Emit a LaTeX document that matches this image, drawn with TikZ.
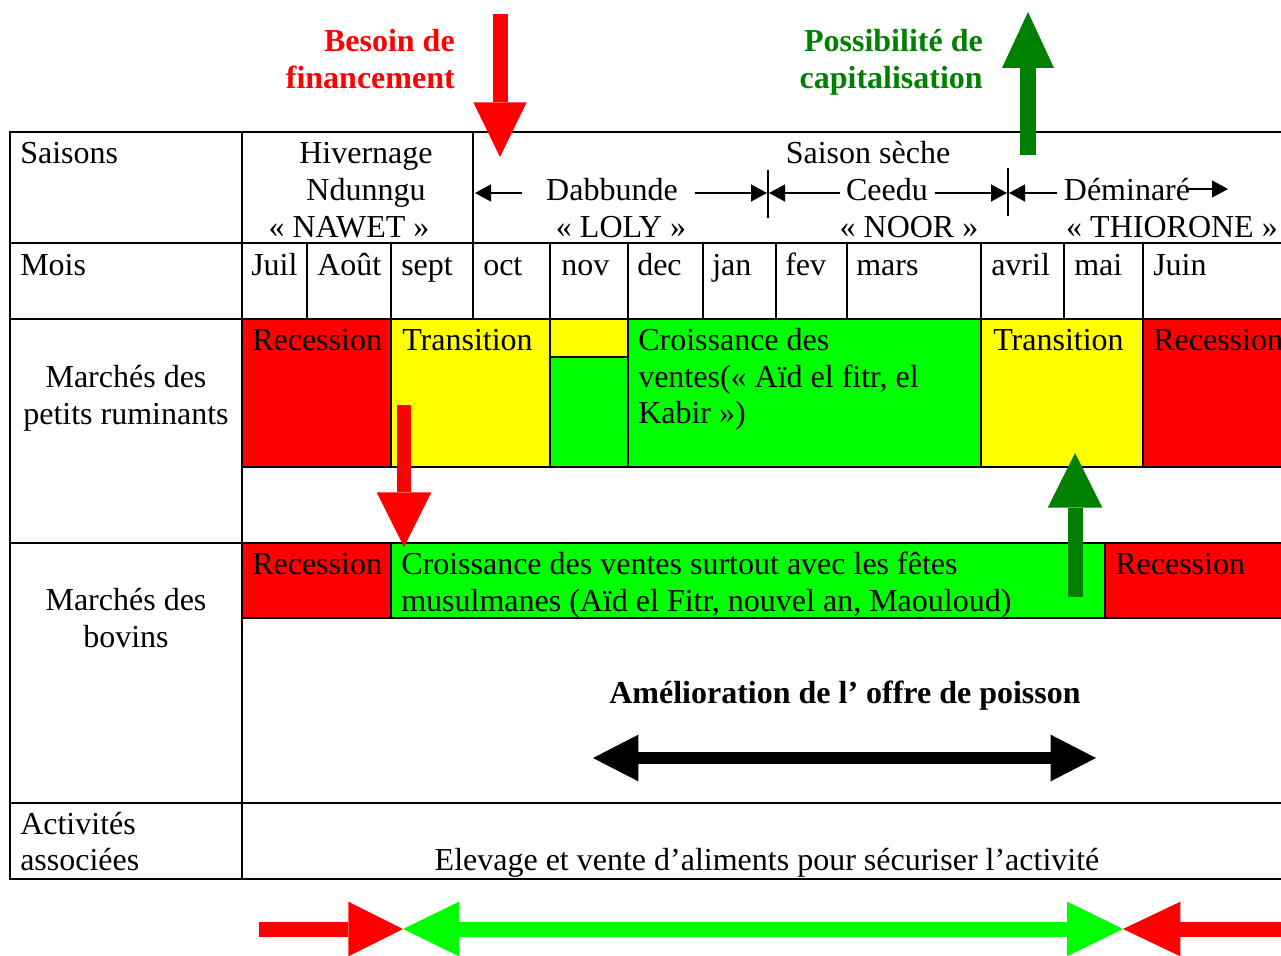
\documentclass[tikz,border=0pt]{standalone}
\usepackage{fontspec}
\setmainfont{Liberation Serif}
\usetikzlibrary{arrows.meta}
\definecolor{rouge}{RGB}{255,0,0}
\definecolor{jaune}{RGB}{255,255,0}
\definecolor{vert}{RGB}{0,255,0}
\definecolor{vertfonce}{RGB}{0,128,0}

\begin{document}
\begin{tikzpicture}[x=0.75pt,y=-0.75pt,
  txt/.style={inner sep=0pt, font=\fontsize{24}{28}\selectfont},
  txtb/.style={inner sep=0pt, font=\fontsize{24}{28}\selectfont\bfseries},
  gridline/.style={line width=1.5pt, line cap=rect},
  sepline/.style={line width=1.1pt},
  sarrow/.style={line width=1.1pt, -{Triangle[length=12pt,width=13pt,line width=0pt]}},
  bigarrow/.style={line width=#1, line cap=butt},
]
\useasboundingbox (0,0) rectangle (1281,956);

% ---------- coloured bars: small ruminants ----------
\fill[rouge] (242,319) rectangle (391,467);
\fill[jaune] (391,319) rectangle (550,467);
\fill[jaune] (550,319) rectangle (628,357);
\fill[vert]  (550,357) rectangle (628,467);
\fill[vert]  (628,319) rectangle (981,467);
\fill[jaune] (981,319) rectangle (1143,467);
\fill[rouge] (1143,319) rectangle (1281,467);

% ---------- coloured bars: cattle ----------
\fill[rouge] (242,543) rectangle (391,618);
\fill[vert]  (391,543) rectangle (1105,618);
\fill[rouge] (1105,543) rectangle (1281,618);

% ---------- table grid ----------
\foreach \y in {132,243,319,543,803,879}
  \draw[gridline] (10,\y) -- (1281,\y);
\draw[gridline] (10,132) -- (10,879);
\draw[gridline] (242,132) -- (242,879);
\draw[gridline] (473,132) -- (473,243);
\foreach \x in {307,391,473,550,628,703,776,847,981,1064,1143}
  \draw[sepline] (\x,243) -- (\x,319);
\draw[gridline] (242,467) -- (1281,467);
\draw[gridline] (242,618) -- (1281,618);
\foreach \x in {391,550,628,981,1143}
  \draw[sepline] (\x,319) -- (\x,467);
\draw[sepline] (550,357) -- (628,357);
\foreach \x in {391,1105}
  \draw[sepline] (\x,543) -- (\x,618);

% ---------- left column ----------
\node[txt, anchor=base west] (saisons) at (20,163) {Saisons};
\node[txt, anchor=base west] (mois) at (20,275) {Mois};
\node[txt, anchor=base] (petits1) at (126,387) {Marchés des};
\node[txt, anchor=base] (petits2) at (126,424) {petits ruminants};
\node[txt, anchor=base] (bovins1) at (126,610) {Marchés des};
\node[txt, anchor=base] (bovins2) at (126,647) {bovins};
\node[txt, anchor=base west] (activ1) at (20,834) {Activités};
\node[txt, anchor=base west] (activ2) at (20,870) {associées};

% ---------- seasons ----------
\node[txt, anchor=base] (hiv1) at (366,163) {Hivernage};
\node[txt, anchor=base] (hiv2) at (366,200) {Ndunngu};
\node[txt, anchor=base] (hiv3) at (349,237) {« NAWET »};
\node[txt, anchor=base] (seche) at (868,163) {Saison sèche};
\node[txt, anchor=base] (dabb) at (612,200) {Dabbunde};
\node[txt, anchor=base] (loly) at (621,237) {« LOLY »};
\node[txt, anchor=base] (ceedu) at (887,200) {Ceedu};
\node[txt, anchor=base] (noor) at (909,237) {« NOOR »};
\node[txt, anchor=base] (demin) at (1127,200) {Déminaré};
\node[txt, anchor=base] (thio) at (1172,237) {« THIORONE »};

% period markers
\coordinate (d0) at (522,193);  \coordinate (d1) at (475,193);
\coordinate (d2) at (695,193);  \coordinate (d3) at (767,193);
\coordinate (c0) at (840,193);  \coordinate (c1) at (769,193);
\coordinate (c2) at (935,193);  \coordinate (c3) at (1007,193);
\coordinate (m0) at (1057,193); \coordinate (m1) at (1009,193);
\coordinate (m2) at (1188,189); \coordinate (m3) at (1228,189);
\draw[sarrow] (d0) -- (d1);
\draw[sarrow] (d2) -- (d3);
\draw[sarrow] (c0) -- (c1);
\draw[sarrow] (c2) -- (c3);
\draw[sarrow] (m0) -- (m1);
\draw[sarrow] (m2) -- (m3);
\draw[sepline] (768,170) -- (768,218);
\draw[sepline] (1008,168) -- (1008,216);

% ---------- months ----------
\foreach \x/\m/\n in {251/Juil/juil,317/Août/aout,401/sept/sept,483/oct/oct,561/nov/nov,637/dec/dec,712/jan/jan,785/fev/fev,856/mars/mars,991/avril/avril,1074/mai/mai,1153/Juin/juin}
  \node[txt, anchor=base west] (mo-\n) at (\x,275) {\m};

% ---------- small ruminants labels ----------
\node[txt, anchor=base west] (pr-rec1) at (252,350) {Recession};
\node[txt, anchor=base west] (pr-tr1) at (402,350) {Transition};
\node[txt, anchor=base west] (pr-cr1) at (638,350) {Croissance des};
\node[txt, anchor=base west] (pr-cr2) at (638,387) {ventes(« Aïd el fitr, el};
\node[txt, anchor=base west] (pr-cr3) at (638,423) {Kabir »)};
\node[txt, anchor=base west] (pr-tr2) at (993,350) {Transition};
\node[txt, anchor=base west] (pr-rec2) at (1153,350) {Recession};

% ---------- cattle labels ----------
\node[txt, anchor=base west] (bv-rec1) at (252,574) {Recession};
\node[txt, anchor=base west] (bv-cr1) at (401,574) {Croissance des ventes surtout avec les fêtes};
\node[txt, anchor=base west] (bv-cr2) at (401,611) {musulmanes (Aïd el Fitr, nouvel an, Maouloud)};
\node[txt, anchor=base west] (bv-rec2) at (1115,574) {Recession};

% ---------- fish supply ----------
\node[txtb, anchor=base] (poisson) at (845,703) {Amélioration de l’ offre de poisson};
\coordinate (p0) at (593,758);
\coordinate (p1) at (1096,758);
\draw[bigarrow=9pt, {Triangle[length=34pt,width=35pt,line width=0pt]}-{Triangle[length=34pt,width=35pt,line width=0pt]}] (p0) -- (p1);

% ---------- associated activities ----------
\node[txt, anchor=base] (elev) at (767,870) {Elevage et vente d’aliments pour sécuriser l’activité};

% ---------- financing / capitalisation ----------
\node[txtb, anchor=base east, text=rouge] (bes1) at (455,52) {Besoin de};
\node[txtb, anchor=base east, text=rouge] (bes2) at (455,89) {financement};
\node[txtb, anchor=base east, text=vertfonce] (cap1) at (983,52) {Possibilité de};
\node[txtb, anchor=base east, text=vertfonce] (cap2) at (983,89) {capitalisation};

\coordinate (f0) at (500,14);   \coordinate (f1) at (500,157);
\coordinate (k0) at (1028,155); \coordinate (k1) at (1028,12);
\coordinate (r0) at (404,405);  \coordinate (r1) at (404,547);
\coordinate (g0) at (1075,597); \coordinate (g1) at (1075,453);
\draw[bigarrow=11.25pt, rouge, -{Triangle[length=41pt,width=40pt,line width=0pt]}] (f0) -- (f1);
\draw[bigarrow=12pt, vertfonce, -{Triangle[length=42pt,width=39pt,line width=0pt]}] (k0) -- (k1);
\draw[bigarrow=10.5pt, rouge, -{Triangle[length=41pt,width=41pt,line width=0pt]}] (r0) -- (r1);
\draw[bigarrow=11.25pt, vertfonce, -{Triangle[length=41pt,width=41pt,line width=0pt]}] (g0) -- (g1);

% ---------- bottom timeline ----------
\coordinate (t0) at (259,929);
\coordinate (t1) at (403,929);
\coordinate (t2) at (1123,929);
\coordinate (t3) at (1281,929);
\draw[bigarrow=11.25pt, rouge, -{Triangle[length=41pt,width=41pt,line width=0pt]}] (t0) -- (t1);
\draw[bigarrow=11.25pt, vert, {Triangle[length=42pt,width=41pt,line width=0pt]}-{Triangle[length=42pt,width=41pt,line width=0pt]}] (t1) -- (t2);
\draw[bigarrow=11.25pt, rouge, -{Triangle[length=43pt,width=41pt,line width=0pt]}] (t3) -- (t2);
\end{tikzpicture}
\end{document}
